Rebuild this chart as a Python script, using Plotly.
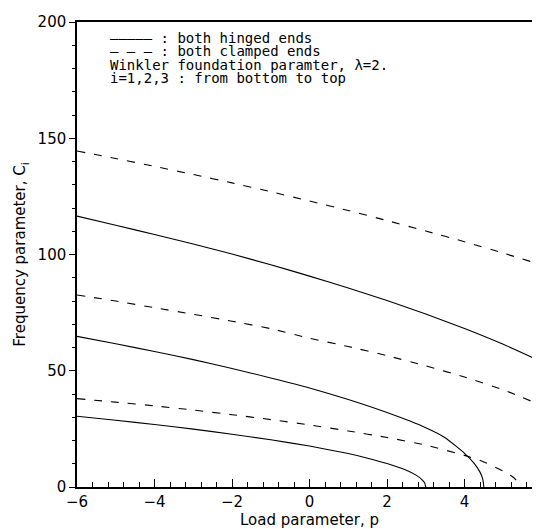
import plotly.graph_objects as go

# Load parameter p values and frequency parameter C_i
p_h1 = [-6, -5, -4, -3, -2, -1, 0, 1, 1.5, 2, 2.5, 2.75, 2.9, 2.97, 3.0]
c_h1 = [30.4, 28.7, 26.9, 24.9, 22.7, 20.3, 17.6, 14.4, 12.4, 10.1, 7.2, 5.1, 3.2, 1.8, 0]

p_h2 = [-6, -5, -4, -3, -2, -1, 0, 1, 2, 3, 3.5, 4, 4.25, 4.4, 4.47, 4.5]
c_h2 = [64.8, 61.6, 58.3, 54.8, 51, 46.9, 42.6, 37.6, 32, 25.5, 21.2, 14.5, 10.2, 6.4, 3.5, 0]

p_h3 = [-6, -5, -4, -3, -2, -1, 0, 1, 2, 3, 4, 5, 6]
c_h3 = [116.5, 112.6, 108.6, 104.5, 100.2, 95.6, 90.7, 85.6, 80.2, 74.4, 68.2, 61.4, 53.8]

p_c1 = [-6, -5, -4, -3, -2, -1, 0, 1, 2, 3, 4, 4.5, 5, 5.25, 5.45]
c_c1 = [38, 36.5, 34.9, 33.1, 31.1, 29, 26.7, 24.1, 21.3, 18, 13.6, 10.8, 6.8, 4.3, 1]

p_c2 = [-6, -5, -4, -3, -2, -1, 0, 1, 2, 3, 4, 5, 6]
c_c2 = [82.6, 80, 77.1, 74.3, 71.3, 68.1, 64, 60.4, 56.5, 52.1, 47.3, 41.8, 35]

p_c3 = [-6, -5, -4, -3, -2, -1, 0, 1, 2, 3, 4, 5, 6]
c_c3 = [144.5, 141.3, 137.9, 134.4, 130.8, 127, 123, 118.9, 114.6, 110.1, 105.5, 100.6, 95.5]

x_ticks = [-6, -4, -2, 0, 2, 4, 6]
y_ticks = [0, 50, 100, 150, 200]

legend_lines = [
    "————— : both hinged ends",
    "– – – : both clamped ends",
    "Winkler foundation paramter, λ=2.",
    "i=1,2,3 : from bottom to top",
]

FONT = "DejaVu Sans"
LEG_FONT = "DejaVu Sans Mono"

fig = go.Figure()
for px, cy in [(p_h1, c_h1), (p_h2, c_h2), (p_h3, c_h3)]:
    fig.add_trace(go.Scatter(x=px, y=cy, mode="lines", showlegend=False,
                             line=dict(color="black", width=1.1, shape="spline", smoothing=0.5)))
for px, cy in [(p_c1, c_c1), (p_c2, c_c2), (p_c3, c_c3)]:
    fig.add_trace(go.Scatter(x=px, y=cy, mode="lines", showlegend=False,
                             line=dict(color="black", width=1.1, dash="8px,9px",
                                       shape="spline", smoothing=0.5)))

ys = [0.9656, 0.9366, 0.9075, 0.8785]
for txt, yy in zip(legend_lines, ys):
    fig.add_annotation(x=0.066, y=yy, xref="paper", yref="paper", text=txt,
                       showarrow=False, xanchor="left", yanchor="middle",
                       font=dict(family=LEG_FONT, size=14, color="black"))

fig.update_layout(
    width=540, height=529,
    margin=dict(l=69, r=6, t=14, b=50),
    paper_bgcolor="white", plot_bgcolor="white",
    font=dict(family=FONT, size=15, color="black"),
)
fig.update_xaxes(range=[-6, 6], tickvals=x_ticks, ticktext=[str(v).replace("-", "−") for v in x_ticks],
                 automargin=False,
                 showgrid=False, zeroline=False, showline=True, linecolor="black", linewidth=1.5,
                 mirror=True, ticks="inside", ticklen=8, tickcolor="black",
                 minor=dict(dtick=0.4, ticks="inside", ticklen=5, tickcolor="black"),
                 title=dict(text="Load parameter, p", standoff=4, font=dict(size=15)))
fig.update_yaxes(range=[0, 200], tickvals=y_ticks, automargin=False,
                 showgrid=False, zeroline=False, showline=True, linecolor="black", linewidth=1.5,
                 mirror=True, ticks="outside", ticklen=6, tickcolor="black",
                 minor=dict(dtick=10, ticks="outside", ticklen=3, tickcolor="black"),
                 title=dict(text="Frequency parameter, C<sub>i</sub>", standoff=8, font=dict(size=15)))

fig.write_html("out.html")
